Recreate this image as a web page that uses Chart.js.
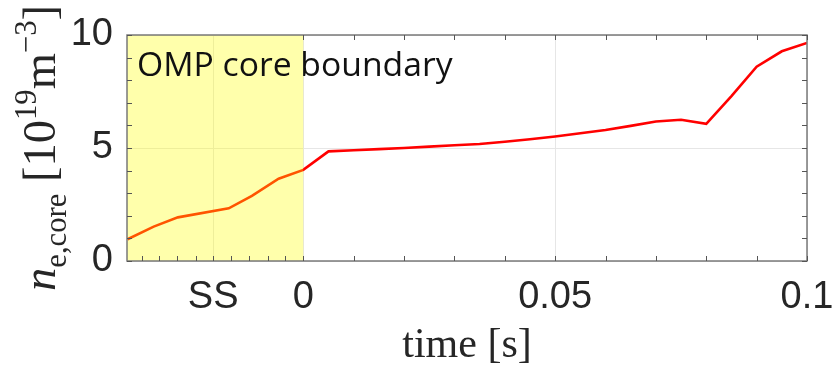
<!DOCTYPE html>
<html>
<head>
<meta charset="utf-8">
<script src="https://cdn.jsdelivr.net/npm/chart.js@4"></script>
<style>
  html, body { margin: 0; padding: 0; background: #fff; }
  #wrap { width: 833px; height: 371px; }
</style>
</head>
<body>
<div id="wrap"><canvas id="myChart" width="833" height="371"></canvas></div>
<script>
'use strict';

// time [s] and core density [1e19 m^-3]
let time = [-0.0349, -0.0297, -0.0249, -0.0148, -0.0102, -0.0049, 0,
    0.005, 0.01, 0.015, 0.02, 0.025, 0.03, 0.035, 0.04, 0.045, 0.05,
    0.055, 0.06, 0.065, 0.07, 0.075, 0.08, 0.085, 0.09, 0.095, 0.1];
let neCore = [0.96, 1.52, 1.93, 2.33, 2.88, 3.64, 4.03,
    4.85, 4.9, 4.95, 5.0, 5.06, 5.12, 5.18, 5.28, 5.39, 5.51,
    5.65, 5.8, 5.98, 6.17, 6.25, 6.07, 7.3, 8.6, 9.28, 9.65];

let xTickVals = [-0.0179, 0, 0.05, 0.1];
let xTickLabels = ['SS', '0', '0.05', '0.1'];
let xMinor = [-0.0321, -0.0286, -0.025, -0.0214, -0.0179, -0.0143, -0.0107, -0.0071, -0.0036,
    0, 0.01, 0.02, 0.03, 0.04, 0.05, 0.06, 0.07, 0.08, 0.09];
let yTickVals = [0, 5, 10];
let yMinor = [1, 2, 3, 4, 5, 6, 7, 8, 9];

let ssEnd = 0;
let noteText = 'OMP core boundary';

let yTitle = [
    { t: 'n', s: 1, it: true, dy: 0 },
    { t: 'e,core', s: 0.66, dy: 0.24 },
    { t: ' [10', s: 1, dy: 0 },
    { t: '19', s: 0.66, dy: -0.4 },
    { t: 'm', s: 1, dy: 0 },
    { t: '\u22123', s: 0.66, dy: -0.4 },
    { t: ']', s: 1, dy: 0 }
];

let points = time.map((t, i) => ({ x: t, y: neCore[i] }));

let decor = {
    id: 'decor',
    afterDatasetsDraw(chart) {
        let ctx = chart.ctx;
        let a = chart.chartArea;
        let x0 = chart.scales.x.getPixelForValue(ssEnd);
        ctx.save();
        ctx.fillStyle = 'rgba(255,255,0,0.33)';
        ctx.fillRect(a.left, a.top, x0 - a.left, a.bottom - a.top);
        ctx.restore();
    },
    afterDraw(chart) {
        let ctx = chart.ctx;
        let a = chart.chartArea;
        let xs = chart.scales.x;
        let ys = chart.scales.y;
        ctx.save();
        // box
        ctx.strokeStyle = '#7a7a7a';
        ctx.lineWidth = 1.5;
        ctx.strokeRect(a.left, a.top, a.right - a.left, a.bottom - a.top);
        // inward ticks
        ctx.strokeStyle = '#555';
        ctx.lineWidth = 1;
        ctx.beginPath();
        xMinor.concat([0.1]).forEach(v => {
            let p = Math.round(xs.getPixelForValue(v)) + 0.5;
            ctx.moveTo(p, a.bottom); ctx.lineTo(p, a.bottom - 5);
            if (v >= 0) { ctx.moveTo(p, a.top); ctx.lineTo(p, a.top + 5); }
        });
        yMinor.concat(yTickVals).forEach(v => {
            let p = Math.round(ys.getPixelForValue(v)) + 0.5;
            ctx.moveTo(a.left, p); ctx.lineTo(a.left + 5, p);
            ctx.moveTo(a.right, p); ctx.lineTo(a.right - 5, p);
        });
        ctx.stroke();

        // note
        ctx.fillStyle = '#111';
        ctx.font = '28px "Open Sans"';
        let w = ctx.measureText(noteText).width;
        let fs = 28 * 316 / w;
        ctx.font = fs.toFixed(1) + 'px "Open Sans"';
        ctx.textBaseline = 'alphabetic';
        ctx.textAlign = 'left';
        ctx.fillText(noteText, a.left + 10, 76);

        // y title, rotated
        let base = 40;
        let total = 0;
        yTitle.forEach(p => {
            ctx.font = (p.it ? 'italic ' : '') + (base * p.s) + 'px "Liberation Serif"';
            total += ctx.measureText(p.t).width;
        });
        base = base * 286 / total;
        ctx.translate(55, (a.top + a.bottom) / 2);
        ctx.rotate(-Math.PI / 2);
        ctx.fillStyle = '#262626';
        let x = 0;
        yTitle.forEach(p => {
            ctx.font = (p.it ? 'italic ' : '') + (base * p.s).toFixed(1) + 'px "Liberation Serif"';
            x += ctx.measureText(p.t).width;
        });
        x = -x / 2;
        yTitle.forEach(p => {
            ctx.font = (p.it ? 'italic ' : '') + (base * p.s).toFixed(1) + 'px "Liberation Serif"';
            ctx.fillText(p.t, x, p.dy * base);
            x += ctx.measureText(p.t).width;
        });
        ctx.restore();
    }
};

let ctx = document.getElementById('myChart').getContext('2d');
let myChart = new Chart(ctx, {
    type: 'line',
    data: {
        datasets: [{
            data: points,
            borderColor: '#ff0000',
            borderWidth: 2.6,
            pointRadius: 0,
            tension: 0,
            fill: false
        }]
    },
    options: {
        responsive: false,
        animation: false,
        layout: { padding: { top: 35, right: 26, left: 0, bottom: 0 } },
        plugins: { legend: { display: false }, tooltip: { enabled: false } },
        scales: {
            x: {
                type: 'linear',
                min: -0.035,
                max: 0.1,
                afterBuildTicks(scale) {
                    scale.ticks = xTickVals.map(v => ({ value: v }));
                },
                afterFit(scale) {
                    scale.height = 110;
                    scale.paddingLeft = 0;
                    scale.paddingRight = 0;
                },
                ticks: {
                    autoSkip: false,
                    maxRotation: 0,
                    padding: 14,
                    color: '#262626',
                    font: { family: '"Liberation Sans"', size: 38 },
                    callback: (v, i) => xTickLabels[i]
                },
                grid: { color: '#e6e6e6', drawTicks: false, lineWidth: 1 },
                border: { display: false },
                title: {
                    display: true,
                    text: 'time [s]',
                    color: '#262626',
                    font: { family: '"Liberation Serif"', size: 42 },
                    padding: { top: 4, bottom: 0 }
                }
            },
            y: {
                min: 0,
                max: 10,
                afterBuildTicks(scale) {
                    scale.ticks = yTickVals.map(v => ({ value: v }));
                },
                afterFit(scale) {
                    scale.width = 127;
                    scale.paddingTop = 0;
                    scale.paddingBottom = 0;
                },
                ticks: {
                    padding: 14,
                    color: '#262626',
                    font: { family: '"Liberation Sans"', size: 38 }
                },
                grid: { color: '#e6e6e6', drawTicks: false, lineWidth: 1 },
                border: { display: false }
            }
        }
    },
    plugins: [decor]
});
</script>
</body>
</html>
